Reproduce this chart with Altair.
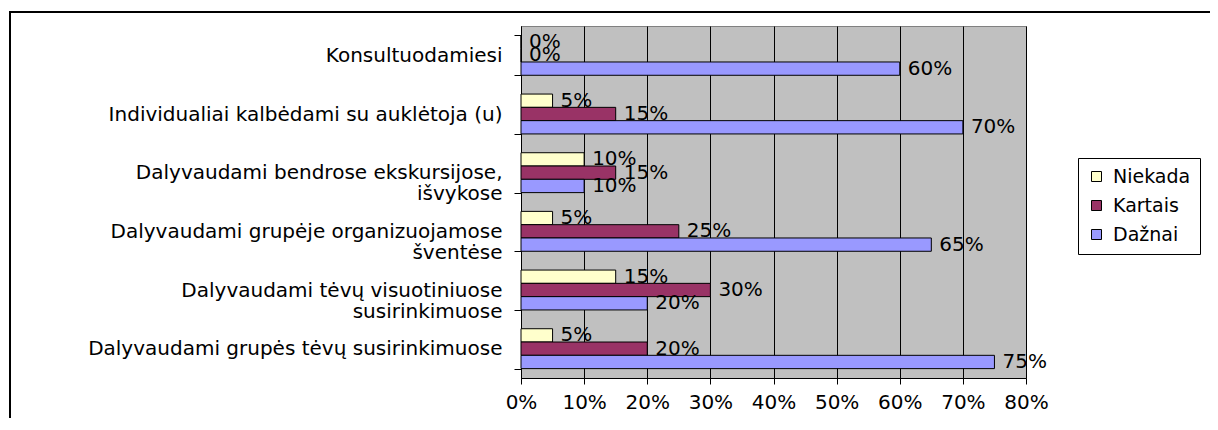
import altair as alt
import pandas as pd

categories = [
    "Konsultuodamiesi",
    "Individualiai kalbėdami su auklėtoja (u)",
    "Dalyvaudami bendrose  ekskursijose,\nišvykose",
    "Dalyvaudami  grupėje organizuojamose\nšventėse",
    "Dalyvaudami tėvų visuotiniuose\nsusirinkimuose",
    "Dalyvaudami grupės tėvų susirinkimuose",
]
series = ["Niekada", "Kartais", "Dažnai"]
niekada = [0, 5, 10, 5, 15, 5]
kartais = [0, 15, 15, 25, 30, 20]
daznai = [60, 70, 10, 65, 20, 75]
x_ticks = [0, 10, 20, 30, 40, 50, 60, 70, 80]
colors = ["#FFFFCC", "#993366", "#9999FF"]

rows = []
for i, c in enumerate(categories):
    for s, vals in zip(series, [niekada, kartais, daznai]):
        rows.append({"cat": c, "series": s, "value": vals[i], "label": f"{vals[i]}%"})
df = pd.DataFrame(rows)

FONT = "DejaVu Sans"

y_enc = alt.Y(
    "cat:N",
    sort=categories,
    scale=alt.Scale(paddingInner=0.32, paddingOuter=0.16),
    axis=alt.Axis(
        title=None,
        labelExpr="split(datum.label, '\\n')",
        labelFont=FONT,
        labelFontSize=20,
        labelColor="black",
        labelAlign="right",
        labelLineHeight=21,
        labelPadding=12,
        labelOverlap=False,
        tickSize=7,
        tickColor="black",
        tickBand="extent",
        domainColor="black",
        labelLimit=600,
    ),
)
yoff_enc = alt.YOffset("series:N", sort=series, scale=alt.Scale(paddingInner=0, paddingOuter=0))
x_enc = alt.X(
    "value:Q",
    scale=alt.Scale(domain=[0, 80], nice=False),
    axis=alt.Axis(
        title=None,
        values=x_ticks,
        labelExpr="datum.value + '%'",
        labelFont=FONT,
        labelFontSize=20,
        labelColor="black",
        labelPadding=8,
        labelOverlap=False,
        labelFlush=False,
        tickSize=6,
        tickColor="black",
        domainColor="black",
        grid=True,
        gridColor="black",
        gridOpacity=1,
        gridWidth=1,
    ),
)

bars = alt.Chart(df).mark_bar(stroke="black", strokeWidth=1).encode(
    y=y_enc,
    yOffset=yoff_enc,
    x=x_enc,
    color=alt.Color(
        "series:N",
        scale=alt.Scale(domain=series, range=colors),
        legend=alt.Legend(
            title=None,
            orient="none",
            legendX=557,
            legendY=132,
            strokeColor="black",
            fillColor="white",
            padding=9,
            symbolType="square",
            symbolSize=100,
            symbolStrokeColor="black",
            symbolStrokeWidth=1,
            symbolOpacity=1,
            labelFont=FONT,
            labelFontSize=19,
            labelColor="black",
            labelOffset=7,
            rowPadding=9,
        ),
    ),
)

labels = alt.Chart(df).mark_text(
    align="left", baseline="middle", dx=8, font=FONT, fontSize=20, color="black"
).encode(
    y=alt.Y("cat:N", sort=categories),
    yOffset=alt.YOffset("series:N", sort=series),
    x=alt.X("value:Q"),
    text="label:N",
)

frame_df = pd.DataFrame({"frame": [0]})
frame = alt.Chart(frame_df).mark_rect(
    fill="white", fillOpacity=0, stroke="black", strokeWidth=2
).encode(
    x=alt.value(-511), x2=alt.value(760), y=alt.value(-14), y2=alt.value(430)
)

chart = (
    alt.layer(frame, bars, labels)
    .properties(
        width=505,
        height=352,
        padding={"left": 513, "top": 18, "right": 184, "bottom": 40},
        autosize=alt.AutoSizeParams(type="none"),
        background="white",
    )
    .configure_view(fill="#C0C0C0", stroke="#808080", strokeWidth=1)
)

chart.save("out.html", embed_options={"renderer": "svg", "actions": False})
